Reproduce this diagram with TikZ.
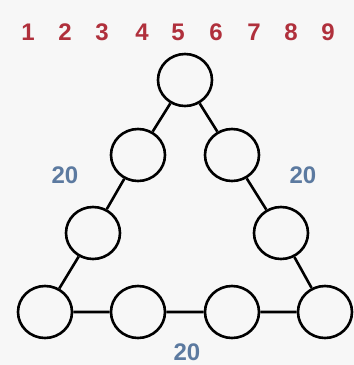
\documentclass[tikz,border=0pt]{standalone}
\usepackage{fontspec}
\setmainfont{Liberation Sans}
\usetikzlibrary{shapes.geometric}
\definecolor{numred}{RGB}{176,48,60}
\definecolor{sumblue}{RGB}{92,122,160}
\definecolor{paper}{RGB}{247,247,247}
\tikzset{
  ball/.style={ellipse, draw, line width=2.6pt, fill=paper, minimum width=54pt, minimum height=52pt, inner sep=0pt},
  digit/.style={text=numred, font=\bfseries\fontsize{24}{24}\selectfont},
  total/.style={text=sumblue, font=\bfseries\fontsize{24}{24}\selectfont}
}
\begin{document}
\begin{tikzpicture}[x=1pt, y=-1pt]
\fill[paper] (0,0) rectangle (354,365);
\useasboundingbox (0,0) rectangle (354,365);

% Digits
\foreach \d/\x in {1/28, 2/65, 3/102, 4/142, 5/178, 6/216, 7/254, 8/291, 9/328}
  \node[digit] (n\d) at (\x,32) {\d};

% Circles
\node[ball] (top) at (185,80) {};
\node[ball] (l1) at (138,155) {};
\node[ball] (r1) at (232,155) {};
\node[ball] (l2) at (93,233) {};
\node[ball] (r2) at (281,233) {};
\node[ball] (b1) at (45,312) {};
\node[ball] (b2) at (138,312) {};
\node[ball] (b3) at (232,312) {};
\node[ball] (b4) at (325,312) {};

% Lines
\draw[line width=2.6pt] (top) -- (l1) -- (l2) -- (b1) -- (b2) -- (b3) -- (b4) -- (r2) -- (r1) -- (top);

% Labels
\node[total] (suml) at (65,175) {20};
\node[total] (sumr) at (303,175) {20};
\node[total] (sumb) at (187,352) {20};
\end{tikzpicture}
\end{document}
